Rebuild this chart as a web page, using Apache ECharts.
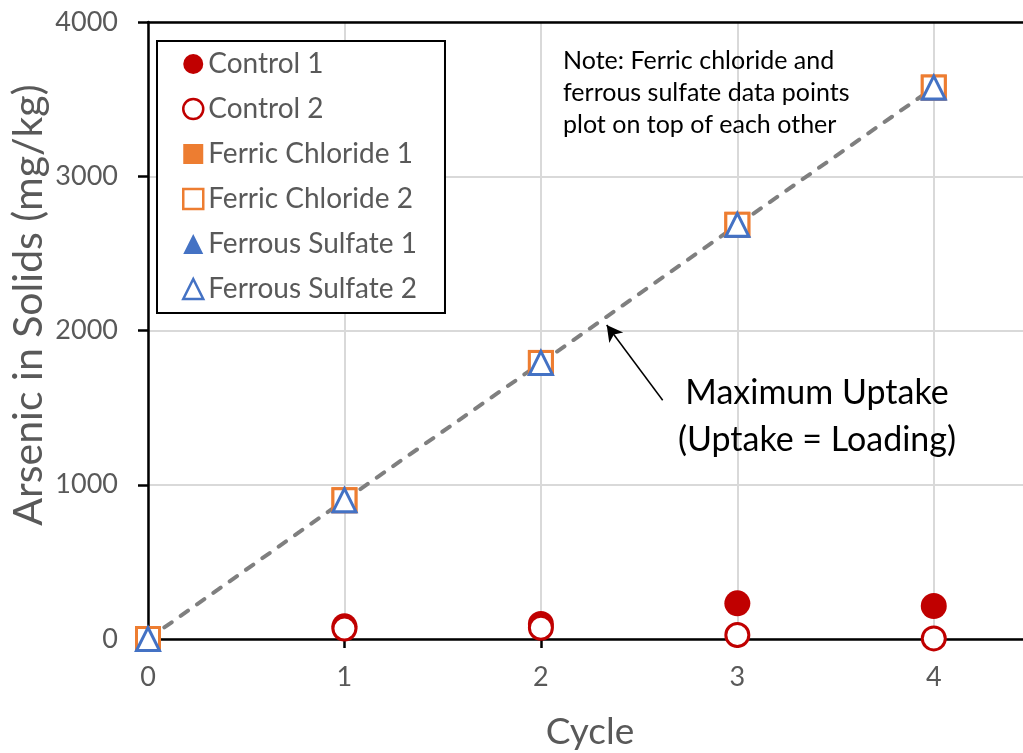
<!DOCTYPE html>
<html>
<head>
<meta charset="utf-8">
<script src="https://cdn.jsdelivr.net/npm/echarts@6/dist/echarts.min.js"></script>
<style>
  html, body { margin: 0; padding: 0; background: #fff; }
  #chart { width: 1023px; height: 753px; }
</style>
</head>
<body>
<div id="chart"></div>
<script>
// Arsenic uptake on solids over treatment cycles
const cycles = [0, 1, 2, 3, 4];
const control1 = [0, 82, 98, 231, 214];
const control2 = [0, 68, 73, 26, 4];
const ferricChloride1 = [0, 900, 1790, 2685, 3575];
const ferricChloride2 = [0, 900, 1790, 2685, 3575];
const ferrousSulfate1 = [0, 900, 1790, 2685, 3575];
const ferrousSulfate2 = [0, 900, 1790, 2685, 3575];
// Maximum possible uptake: all arsenic loaded ends up in the solids
const maxUptake = [0, 900, 1790, 2685, 3575];

const yTicks = [0, 1000, 2000, 3000, 4000];
const xTicks = [0, 1, 2, 3, 4];

// Arrow from the label to the max-uptake line, in data units [cycle, mg/kg]
const arrowFrom = [2.62, 1548];
const arrowTo = [2.335, 2036];

const yTitle = 'Arsenic in Solids (mg/kg)';
const xTitle = 'Cycle';
const noteLines = ['Note: Ferric chloride and', 'ferrous sulfate data points', 'plot on top of each other'];
const uptakeLabel = ['Maximum Uptake', '(Uptake = Loading)'];

const RED = '#C00000', ORANGE = '#ED7D31', BLUE = '#4472C4';
const FONT = 'Lato';
const GREY_TEXT = '#595959';

const pairs = arr => cycles.map((c, i) => [c, arr[i]]);

function filled(name, data, symbol, color) {
  return {
    name, type: 'scatter', data: pairs(data), symbol, symbolSize: 26,
    itemStyle: { color: color, borderWidth: 0, opacity: 1 }
  };
}
function hollow(name, data, symbol, color) {
  return {
    name, type: 'scatter', data: pairs(data), symbol, symbolSize: 23,
    itemStyle: { color: '#fff', borderColor: color, borderWidth: 3, opacity: 1 }
  };
}

const chart = echarts.init(document.getElementById('chart'), null, { renderer: 'canvas' });

// The plot area runs a little past the right edge of the canvas (x up to 4.5)
const option = {
  animation: false,
  backgroundColor: '#fff',
  grid: { left: 148, right: -9, top: 22, bottom: 114, containLabel: false, outerBoundsMode: 'none' },
  xAxis: [{
    type: 'value', min: 0, max: 4.5, interval: 1,
    name: xTitle, nameLocation: 'middle', nameGap: 93,
    nameTextStyle: { fontFamily: FONT, fontSize: 37, color: GREY_TEXT, verticalAlign: 'middle' },
    axisLine: { show: true, onZero: false, lineStyle: { color: '#000', width: 2.5 } },
    axisTick: { show: true, inside: false, length: 9, lineStyle: { color: '#000', width: 2.5 } },
    axisLabel: {
      margin: 25, fontFamily: FONT, fontSize: 27, color: GREY_TEXT,
      formatter: v => (xTicks.indexOf(v) >= 0 ? String(v) : '')
    },
    splitLine: { show: true, lineStyle: { color: '#D9D9D9', width: 2 } }
  }, {
    type: 'value', position: 'top', min: 0, max: 4.5, interval: 1,
    axisLine: { show: true, onZero: false, lineStyle: { color: '#000', width: 2.5 } },
    axisTick: { show: false }, axisLabel: { show: false }, splitLine: { show: false }
  }],
  yAxis: {
    type: 'value', min: 0, max: 4000, interval: 1000,
    axisLine: { show: true, onZero: false, lineStyle: { color: '#000', width: 2.5 } },
    axisTick: { show: true, inside: false, length: 10, lineStyle: { color: '#000', width: 2.5 } },
    axisLabel: {
      margin: 30, fontFamily: FONT, fontSize: 27, color: GREY_TEXT,
      formatter: v => (yTicks.indexOf(v) >= 0 ? String(v) : '')
    },
    splitLine: { show: true, lineStyle: { color: '#D9D9D9', width: 2 } }
  },
  legend: {
    orient: 'vertical', left: 157, top: 41,
    padding: [9, 28, 10, 25],
    backgroundColor: '#fff', borderColor: '#000', borderWidth: 2,
    itemWidth: 20, itemHeight: 20, itemGap: 17,
    textStyle: { fontFamily: FONT, fontSize: 28, lineHeight: 28, color: GREY_TEXT },
    data: [
      { name: 'Control 1' },
      { name: 'Control 2', itemStyle: { borderWidth: 2.5 } },
      { name: 'Ferric Chloride 1' },
      { name: 'Ferric Chloride 2', itemStyle: { borderWidth: 2.5 } },
      { name: 'Ferrous Sulfate 1' },
      { name: 'Ferrous Sulfate 2', itemStyle: { borderWidth: 2.5 } }
    ]
  },
  series: [
    {
      name: 'Maximum Uptake', type: 'line', data: pairs(maxUptake),
      symbol: 'none', z: 1,
      lineStyle: { color: '#7F7F7F', width: 4, type: [9, 11], cap: 'round' },
      markLine: {
        silent: true, symbol: ['none', 'arrow'], symbolSize: [13, 16],
        label: { show: false },
        lineStyle: { color: '#000', width: 1.5, type: 'solid' },
        data: [[{ coord: arrowFrom }, { coord: arrowTo }]]
      }
    },
    filled('Control 1', control1, 'circle', RED),
    hollow('Control 2', control2, 'circle', RED),
    filled('Ferric Chloride 1', ferricChloride1, 'rect', ORANGE),
    hollow('Ferric Chloride 2', ferricChloride2, 'rect', ORANGE),
    filled('Ferrous Sulfate 1', ferrousSulfate1, 'triangle', BLUE),
    hollow('Ferrous Sulfate 2', ferrousSulfate2, 'triangle', BLUE)
  ],
  graphic: [
    {
      // vertical axis title, reading bottom to top
      type: 'text', x: 29, y: 305, rotation: Math.PI / 2, z: 10,
      style: { text: yTitle, font: '41px ' + FONT, fill: GREY_TEXT, align: 'center', verticalAlign: 'middle' }
    },
    {
      type: 'text', left: 563, top: 45, z: 10,
      style: { text: noteLines.join('\n'), font: '25px ' + FONT, lineHeight: 32, fill: '#000' }
    },
    {
      type: 'text', x: 817, y: 370, z: 10,
      style: { text: uptakeLabel.join('\n'), font: '34px ' + FONT, lineHeight: 47, fill: '#000', align: 'center', verticalAlign: 'top' }
    }
  ]
};

chart.setOption(option);
</script>
</body>
</html>
